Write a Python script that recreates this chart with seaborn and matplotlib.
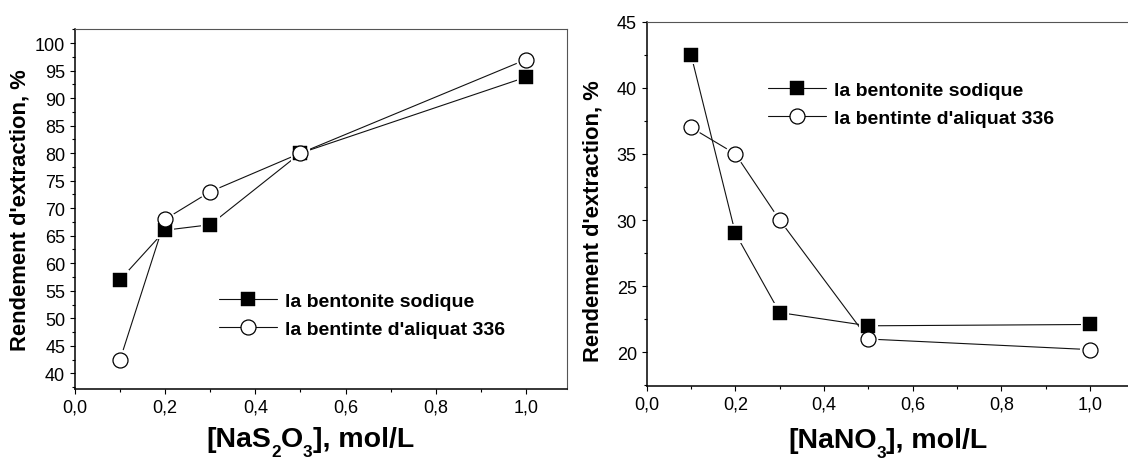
import matplotlib
matplotlib.use('Agg')
import matplotlib.pyplot as plt
import seaborn as sns
import pandas as pd
from matplotlib.ticker import MultipleLocator
from matplotlib.lines import Line2D

# ---------------- data ----------------
conc = [0.1, 0.2, 0.3, 0.5, 1.0]
s2o3_sodique = [57.0, 66.0, 67.0, 80.0, 93.8]
s2o3_aliquat = [42.5, 68.0, 73.0, 80.0, 97.0]
no3_sodique = [42.5, 29.0, 23.0, 22.0, 22.1]
no3_aliquat = [37.0, 35.0, 30.0, 21.0, 20.2]
series_names = ['la bentonite sodique', "la bentinte d'aliquat 336"]

x_ticks = [0.0, 0.2, 0.4, 0.6, 0.8, 1.0]
x_tick_labels = ['0,0', '0,2', '0,4', '0,6', '0,8', '1,0']
y_ticks_left = [40, 45, 50, 55, 60, 65, 70, 75, 80, 85, 90, 95, 100]
y_ticks_right = [20, 25, 30, 35, 40, 45]
y_label = "Rendement d'extraction, %"
# (text, is_subscript)
x_label_left = [('[NaS', False), ('2', True), ('O', False), ('3', True), ('], mol/L', False)]
x_label_right = [('[NaNO', False), ('3', True), ('], mol/L', False)]

# ---------------- style ----------------
sns.set_theme(style='ticks')
plt.rcParams['font.family'] = ['Liberation Sans', 'DejaVu Sans']
plt.rcParams['text.color'] = 'black'
plt.rcParams['axes.labelcolor'] = 'black'
plt.rcParams['xtick.color'] = 'black'
plt.rcParams['ytick.color'] = 'black'

W, H = 1128, 460
fig = plt.figure(figsize=(W / 100, H / 100), dpi=100, facecolor='white')
ax1 = fig.add_axes([75 / W, 1 - 390 / H, 492 / W, 360 / H])
ax2 = fig.add_axes([646.7 / W, 1 - 386.7 / H, 483.3 / W, 364 / H])

SQ = 9.8      # square side (pt)
CI = 10.8     # circle diameter (pt)
GAP = 1.8     # white gap around markers (pt)


def draw_panel(ax, y_sod, y_ali):
    df = pd.DataFrame({
        'conc': conc * 2,
        'rend': list(y_sod) + list(y_ali),
        'serie': [series_names[0]] * len(conc) + [series_names[1]] * len(conc),
    })
    sns.lineplot(data=df, x='conc', y='rend', hue='serie',
                 palette=['#111111', '#111111'], linewidth=0.8,
                 sort=False, estimator=None, legend=False, ax=ax, zorder=1)
    # white halos -> small gaps between lines and markers
    sns.scatterplot(x=conc, y=y_sod, marker='s', s=(SQ + 2 * GAP) ** 2,
                    color='white', edgecolor='none', linewidth=0, ax=ax,
                    zorder=2, legend=False)
    sns.scatterplot(x=conc, y=y_ali, marker='o', s=(CI + 2 * GAP) ** 2,
                    color='white', edgecolor='none', linewidth=0, ax=ax,
                    zorder=2, legend=False)
    sns.scatterplot(x=conc, y=y_sod, marker='s', s=SQ ** 2,
                    color='black', edgecolor='black', linewidth=0.3, ax=ax,
                    zorder=3, legend=False)
    sns.scatterplot(x=conc, y=y_ali, marker='o', s=CI ** 2,
                    color='white', edgecolor='black', linewidth=0.9, ax=ax,
                    zorder=4, legend=False)
    ax.set_xlabel('')


draw_panel(ax1, s2o3_sodique, s2o3_aliquat)
draw_panel(ax2, no3_sodique, no3_aliquat)

ax1.set_xlim(0, 1.091)
ax1.set_ylim(37.15, 102.55)
ax2.set_xlim(0, 1.0903)
ax2.set_ylim(17.47, 45)

for ax, yt in ((ax1, y_ticks_left), (ax2, y_ticks_right)):
    ax.set_facecolor('white')
    ax.set_xticks(x_ticks, x_tick_labels)
    ax.set_yticks(yt, [str(v) for v in yt])
    ax.xaxis.set_minor_locator(MultipleLocator(0.1))
    ax.yaxis.set_minor_locator(MultipleLocator(2.5))
    ax.tick_params(which='major', direction='out', length=3.6, width=0.8,
                   color='black', labelsize=13, pad=3.5, labelcolor='black')
    ax.tick_params(which='minor', direction='out', length=2.0, width=0.8,
                   color='black')
    ax.tick_params(top=False, right=False, which='both')
    for side in ('left', 'bottom'):
        ax.spines[side].set_color('black')
        ax.spines[side].set_linewidth(1.1)
    for side in ('top', 'right'):
        ax.spines[side].set_visible(True)
        ax.spines[side].set_color('#555555')
        ax.spines[side].set_linewidth(0.8)
    ax.grid(False)

# y labels
for ax in (ax1, ax2):
    ax.set_ylabel(y_label, fontsize=15.8, fontweight='bold')
    ax.yaxis.label.set_verticalalignment('center')
ax1.yaxis.set_label_coords(-0.112, 0.5)
ax2.yaxis.set_label_coords(-0.111, 0.455)

# x labels built from pieces (deep subscripts, as in the original figure)
renderer = fig.canvas.get_renderer()


def draw_xlabel(ax, parts, cx, base_y, size):
    sub_size = size * 0.6
    objs = []
    widths = []
    for txt, sub in parts:
        t = fig.text(0, 0, txt, fontsize=sub_size if sub else size,
                     fontweight='bold', ha='left', va='baseline',
                     color='black')
        objs.append((t, sub))
        widths.append(t.get_window_extent(renderer).width)
    total = sum(widths)
    x_px = ax.transAxes.transform((cx, 0))[0] - total / 2
    for (t, sub), w in zip(objs, widths):
        y_px = H - base_y - (10 if sub else 0)
        t.set_position((x_px / W, y_px / H))
        x_px += w


draw_xlabel(ax1, x_label_left, 0.478, 447, 20.5)
draw_xlabel(ax2, x_label_right, 0.499, 448, 20.5)

# legends
handles = [
    Line2D([], [], color='#111111', lw=0.8, marker='s', markersize=SQ,
           markerfacecolor='black', markeredgecolor='black', markeredgewidth=0.3),
    Line2D([], [], color='#111111', lw=0.8, marker='o', markersize=CI,
           markerfacecolor='white', markeredgecolor='black', markeredgewidth=0.9),
]
leg_kw = dict(frameon=False, prop={'weight': 'bold', 'size': 14},
              handlelength=3.0, handletextpad=0.4, labelspacing=0.55,
              borderpad=0, borderaxespad=0, loc='upper left',
              bbox_transform=fig.transFigure)
ax1.legend(handles, series_names, bbox_to_anchor=(219 / W, 1 - 293 / H), **leg_kw)
ax2.legend(handles, series_names, bbox_to_anchor=(768 / W, 1 - 82 / H), **leg_kw)

fig.savefig('out.png', dpi=100, facecolor='white')
